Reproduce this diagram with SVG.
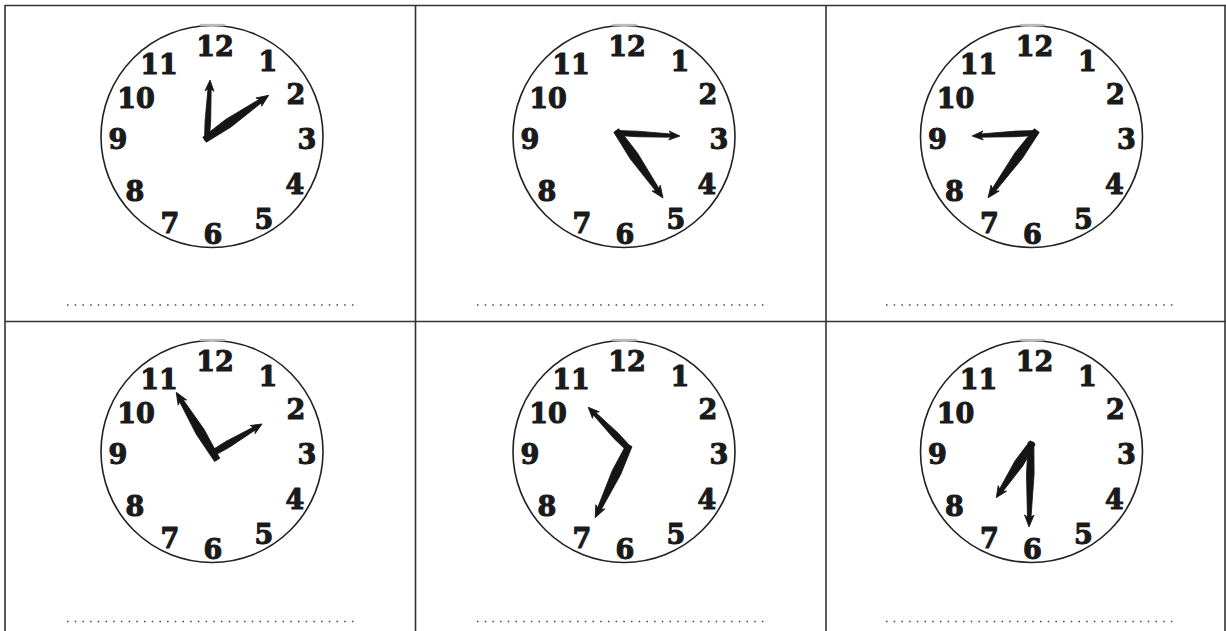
<svg xmlns="http://www.w3.org/2000/svg" width="1226" height="631" viewBox="0 0 1226 631">
<style>
.grid{stroke:#333;stroke-width:1.6;fill:none}
.face{fill:#fff;stroke:#222;stroke-width:1.6}
.smudge{stroke:#bbb;stroke-width:2.2;fill:none}
.num{font-family:"DejaVu Serif","Liberation Serif",serif;font-weight:bold;font-size:27px;fill:#1a1a1a;stroke:#1a1a1a;stroke-width:1.1;stroke-linejoin:round;text-anchor:middle}
.hand{fill:#151515;stroke:#151515;stroke-width:0.8;stroke-linejoin:round}
.blank{stroke:#444;stroke-width:1.5;stroke-dasharray:1.5 6.2;fill:none}
</style>
<rect width="1226" height="631" fill="#fff"/>
<g id="grid">
<line class="grid" x1="5" y1="5.5" x2="1226" y2="5.5"/>
<line class="grid" x1="5" y1="321.5" x2="1226" y2="321.5"/>
<line class="grid" x1="5" y1="5" x2="5" y2="631"/>
<line class="grid" x1="415.5" y1="5" x2="415.5" y2="631"/>
<line class="grid" x1="826" y1="5" x2="826" y2="631"/>
<line class="grid" x1="1225" y1="5" x2="1225" y2="631"/>
</g>
<g id="blanks">
<line class="blank" x1="67" y1="305" x2="354" y2="305"/>
<line class="blank" x1="477" y1="305" x2="764" y2="305"/>
<line class="blank" x1="886" y1="305" x2="1173" y2="305"/>
<line class="blank" x1="67" y1="621.5" x2="354" y2="621.5"/>
<line class="blank" x1="477" y1="621.5" x2="764" y2="621.5"/>
<line class="blank" x1="886" y1="621.5" x2="1173" y2="621.5"/>
</g>
<g id="clock-1" transform="translate(212,136.5)">
<circle class="face" r="111"/><path class="smudge" d="M-12,-111.5 L13,-111.5"/>
<text class="num" x="3" y="-81">12</text><text class="num" x="56" y="-66">1</text><text class="num" x="84" y="-33">2</text><text class="num" x="95" y="12">3</text><text class="num" x="83" y="57">4</text><text class="num" x="52" y="92">5</text><text class="num" x="1" y="107">6</text><text class="num" x="-42" y="96">7</text><text class="num" x="-77" y="64">8</text><text class="num" x="-94" y="12">9</text><text class="num" x="-76" y="-29">10</text><text class="num" x="-53" y="-63">11</text>
<polygon class="hand" transform="translate(-5,1.5) rotate(-87)" points="-2,-2.4 17,-2.8 49,-1.6 47,-4.5 58,0 47,4.5 49,1.6 17,2.8 -2,2.4"/>
<polygon class="hand" transform="translate(-5,1.5) rotate(-34.7)" points="-3,-3 26,-4.6 65,-2 63,-5 75,0 63,5 65,2 26,4.6 -3,3"/>
</g>
<g id="clock-2" transform="translate(624,136.5)">
<circle class="face" r="111"/><path class="smudge" d="M-12,-111.5 L13,-111.5"/>
<text class="num" x="3" y="-81">12</text><text class="num" x="56" y="-66">1</text><text class="num" x="84" y="-33">2</text><text class="num" x="95" y="12">3</text><text class="num" x="83" y="57">4</text><text class="num" x="52" y="92">5</text><text class="num" x="1" y="107">6</text><text class="num" x="-42" y="96">7</text><text class="num" x="-77" y="64">8</text><text class="num" x="-94" y="12">9</text><text class="num" x="-76" y="-29">10</text><text class="num" x="-53" y="-63">11</text>
<polygon class="hand" transform="translate(-6,-3.5) rotate(2.8)" points="-2,-2.4 19,-2.8 53,-1.6 51,-4.5 62,0 51,4.5 53,1.6 19,2.8 -2,2.4"/>
<polygon class="hand" transform="translate(-6,-3.5) rotate(55.3)" points="-3,-3 28,-4.6 69,-2 67,-5 79,0 67,5 69,2 28,4.6 -3,3"/>
</g>
<g id="clock-3" transform="translate(1031.5,136.5)">
<circle class="face" r="111"/><path class="smudge" d="M-12,-111.5 L13,-111.5"/>
<text class="num" x="3" y="-81">12</text><text class="num" x="56" y="-66">1</text><text class="num" x="84" y="-33">2</text><text class="num" x="95" y="12">3</text><text class="num" x="83" y="57">4</text><text class="num" x="52" y="92">5</text><text class="num" x="1" y="107">6</text><text class="num" x="-42" y="96">7</text><text class="num" x="-77" y="64">8</text><text class="num" x="-94" y="12">9</text><text class="num" x="-76" y="-29">10</text><text class="num" x="-53" y="-63">11</text>
<polygon class="hand" transform="translate(3.5,-3.5) rotate(177.3)" points="-2,-2.4 19,-2.8 54,-1.6 52,-4.5 63,0 52,4.5 54,1.6 19,2.8 -2,2.4"/>
<polygon class="hand" transform="translate(3.5,-3.5) rotate(125.9)" points="-3,-3 28,-4.6 70,-2 68,-5 80,0 68,5 70,2 28,4.6 -3,3"/>
</g>
<g id="clock-4" transform="translate(212,451.5)">
<circle class="face" r="111"/><path class="smudge" d="M-12,-111.5 L13,-111.5"/>
<text class="num" x="3" y="-81">12</text><text class="num" x="56" y="-66">1</text><text class="num" x="84" y="-33">2</text><text class="num" x="95" y="12">3</text><text class="num" x="83" y="57">4</text><text class="num" x="52" y="92">5</text><text class="num" x="1" y="107">6</text><text class="num" x="-42" y="96">7</text><text class="num" x="-77" y="64">8</text><text class="num" x="-94" y="12">9</text><text class="num" x="-76" y="-29">10</text><text class="num" x="-53" y="-63">11</text>
<polygon class="hand" transform="translate(1,1.5) rotate(-121.2)" points="-8,-3 25,-4.6 61,-2 59,-5 71,0 59,5 61,2 25,4.6 -8,3"/>
<polygon class="hand" transform="translate(1,1.5) rotate(-30.6)" points="-2,-2.8 17,-3.4 48,-1.7 46,-4.7 57,0 46,4.7 48,1.7 17,3.4 -2,2.8"/>
</g>
<g id="clock-5" transform="translate(624,451.5)">
<circle class="face" r="111"/><path class="smudge" d="M-12,-111.5 L13,-111.5"/>
<text class="num" x="3" y="-81">12</text><text class="num" x="56" y="-66">1</text><text class="num" x="84" y="-33">2</text><text class="num" x="95" y="12">3</text><text class="num" x="83" y="57">4</text><text class="num" x="52" y="92">5</text><text class="num" x="1" y="107">6</text><text class="num" x="-42" y="96">7</text><text class="num" x="-77" y="64">8</text><text class="num" x="-94" y="12">9</text><text class="num" x="-76" y="-29">10</text><text class="num" x="-53" y="-63">11</text>
<polygon class="hand" transform="translate(4,-3.5) rotate(-134.3)" points="-2,-2.8 17,-3.4 48,-1.7 46,-4.7 57,0 46,4.7 48,1.7 17,3.4 -2,2.8"/>
<polygon class="hand" transform="translate(4,-3.5) rotate(115.2)" points="-3,-3 27,-4.6 67,-2 65,-5 77,0 65,5 67,2 27,4.6 -3,3"/>
</g>
<g id="clock-6" transform="translate(1031.5,451.5)">
<circle class="face" r="111"/><path class="smudge" d="M-12,-111.5 L13,-111.5"/>
<text class="num" x="3" y="-81">12</text><text class="num" x="56" y="-66">1</text><text class="num" x="84" y="-33">2</text><text class="num" x="95" y="12">3</text><text class="num" x="83" y="57">4</text><text class="num" x="52" y="92">5</text><text class="num" x="1" y="107">6</text><text class="num" x="-42" y="96">7</text><text class="num" x="-77" y="64">8</text><text class="num" x="-94" y="12">9</text><text class="num" x="-76" y="-29">10</text><text class="num" x="-53" y="-63">11</text>
<polygon class="hand" transform="translate(-0.5,-6.5) rotate(91.4)" points="-3,-2.8 29,-3.8 72,-1.8 70,-4.8 82,0 70,4.8 72,1.8 29,3.8 -3,2.8"/>
<polygon class="hand" transform="translate(-0.5,-6.5) rotate(123.4)" points="-3,-3 22,-4.6 54,-2 52,-5 63,0 52,5 54,2 22,4.6 -3,3"/>
</g>
</svg>
